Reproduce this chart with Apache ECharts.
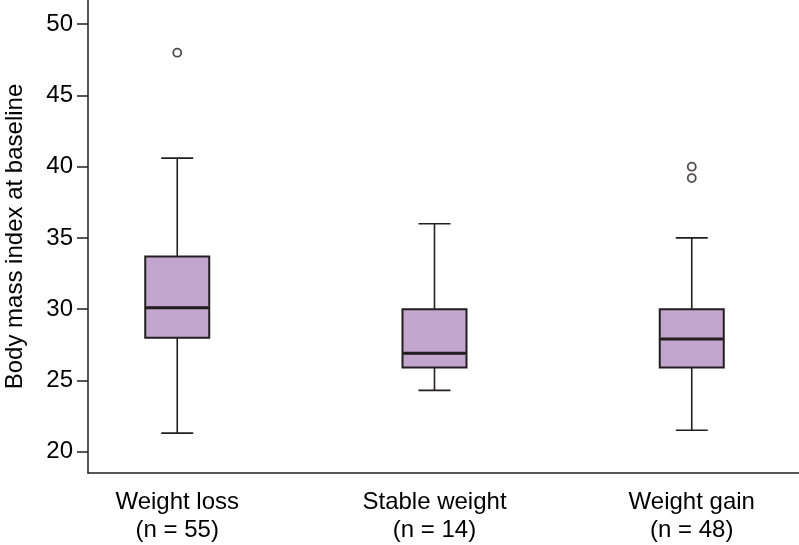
<!DOCTYPE html>
<html>
<head>
<meta charset="utf-8">
<script src="https://cdn.jsdelivr.net/npm/echarts@6/dist/echarts.min.js"></script>
<style>
html,body{margin:0;padding:0;background:#fff;}
#chart{width:799px;height:545px;}
</style>
</head>
<body>
<div id="chart"></div>
<script>
// ---- data ----
var categories = ['Weight loss\n(n = 55)', 'Stable weight\n(n = 14)', 'Weight gain\n(n = 48)'];
var positions = [1, 2, 3];
var mins    = [21.3, 24.3, 21.5];
var q1s     = [28.0, 25.9, 25.9];
var medians = [30.1, 26.9, 27.9];
var q3s     = [33.7, 30.0, 30.0];
var maxs    = [40.6, 36.0, 35.0];
var outliers = [[1, 48.0], [3, 40.0], [3, 39.2]];
var yTicks = [20, 25, 30, 35, 40, 45, 50];

var ink = '#231F20';
var textInk = '#000000';
var fill = '#C3A5CE';
var font = 'Liberation Sans, Arial, Helvetica, sans-serif';

var whiskerData = positions.map(function (p, i) { return [p, mins[i], medians[i], medians[i], medians[i], maxs[i]]; });
var boxData = positions.map(function (p, i) { return [p, q1s[i], q1s[i], medians[i], q3s[i], q3s[i]]; });
var medianData = positions.map(function (p, i) { return [p, medians[i], medians[i], medians[i], medians[i], medians[i]]; });

var xMin = 0.6531, xMax = 3.4169;
function hiddenX() {
  return {type: 'value', min: xMin, max: xMax, show: false, splitLine: {show: false}};
}

var chart = echarts.init(document.getElementById('chart'), null, {renderer: 'canvas'});
chart.setOption({
  animation: false,
  backgroundColor: '#fff',
  grid: {left: 88, right: 0, top: 0, bottom: 72, outerBoundsMode: 'none', containLabel: false},
  xAxis: [{
    type: 'value',
    min: xMin,
    max: xMax,
    splitLine: {show: false},
    axisLine: {show: true, onZero: false, lineStyle: {color: ink, width: 1.5}},
    axisTick: {show: false},
    axisLabel: {
      customValues: positions,
      formatter: function (v) { return categories[Math.round(v) - 1] || ''; },
      color: textInk, fontFamily: font, fontSize: 24, lineHeight: 28, margin: 15
    }
  }, hiddenX(), hiddenX(), hiddenX()],
  yAxis: {
    type: 'value',
    min: 18.5,
    max: 51.7,
    name: 'Body mass index at baseline',
    nameLocation: 'middle',
    nameGap: 61,
    nameTextStyle: {color: textInk, fontFamily: font, fontSize: 24},
    splitLine: {show: false},
    axisLine: {show: true, onZero: false, lineStyle: {color: ink, width: 1.5}},
    axisTick: {show: true, customValues: yTicks, length: 11, lineStyle: {color: ink, width: 1.5}},
    axisLabel: {customValues: yTicks, color: textInk, fontFamily: font, fontSize: 24, margin: 15}
  },
  series: [
    {
      type: 'boxplot',
      xAxisIndex: 1,
      data: whiskerData,
      boxWidth: [32, 32],
      silent: true,
      itemStyle: {color: 'rgba(0,0,0,0)', borderColor: ink, borderWidth: 1.6},
      emphasis: {disabled: true}
    },
    {
      type: 'boxplot',
      xAxisIndex: 2,
      data: boxData,
      boxWidth: [64, 64],
      silent: true,
      itemStyle: {color: fill, borderColor: ink, borderWidth: 2},
      emphasis: {disabled: true}
    },
    {
      type: 'boxplot',
      xAxisIndex: 3,
      data: medianData,
      boxWidth: [62, 62],
      silent: true,
      itemStyle: {color: 'rgba(0,0,0,0)', borderColor: ink, borderWidth: 3},
      emphasis: {disabled: true}
    },
    {
      type: 'scatter',
      xAxisIndex: 0,
      data: outliers,
      symbol: 'circle',
      symbolSize: 8,
      silent: true,
      itemStyle: {color: '#fff', borderColor: ink, borderWidth: 1.8}
    }
  ]
});
</script>
</body>
</html>
